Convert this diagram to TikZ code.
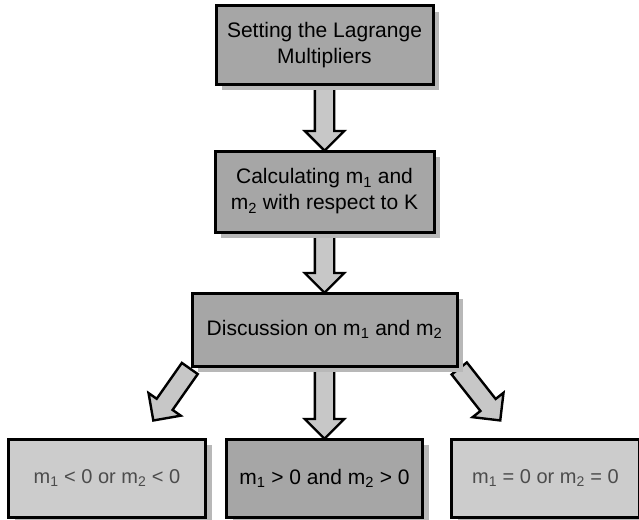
\documentclass[tikz,border=0pt]{standalone}
\usepackage{fontspec}
\setmainfont{Liberation Sans}
\usetikzlibrary{positioning}
\usetikzlibrary{calc}
\usetikzlibrary{shapes.arrows}
\usetikzlibrary{shadows}
\usetikzlibrary{backgrounds}
\tikzset{
    stage/.style={draw, line width=3pt, fill=black!35, align=center,
        minimum height=78pt, inner sep=2pt,
        font=\fontsize{21}{26}\selectfont,
        drop shadow={shadow xshift=6pt, shadow yshift=-6pt, fill=black!28, opacity=1}},
    case/.style={stage, fill=black!20, text=black!70,
        font=\fontsize{20}{24}\selectfont},
    fat/.style={single arrow, draw, line width=2.4pt, fill=black!22,
        minimum width=39pt, single arrow head extend=10pt,
        single arrow head indent=0pt, inner xsep=0pt, inner ysep=8.5pt}
}
% hollow block arrow from #1 to #2
\newcommand\fatarrow[2]{%
    \path let \p1=($(#2)-(#1)$), \n1={veclen(\x1,\y1)}, \n2={atan2(\y1,\x1)} in
        (#1) node[fat, minimum height=\n1, rotate=\n2, anchor=tail] {};}

\begin{document}
\begin{tikzpicture}[x=1pt, y=1pt]
    \useasboundingbox (0,0) rectangle (639,-519);

    \node [stage, minimum width=217pt] (lagrange) at (324.5,-45) {Setting the Lagrange\\Multipliers};
    \node [stage, minimum width=219pt, minimum height=81pt, below=64pt of lagrange] (mcalc)
        {Calculating m\textsubscript{1} and\\m\textsubscript{2} with respect to K};
    \node [stage, minimum width=265pt, minimum height=73pt, below=58pt of mcalc] (discuss)
        {Discussion on m\textsubscript{1} and m\textsubscript{2}};

    \node [stage, minimum width=196pt, below=70pt of discuss] (positive)
        {m\textsubscript{1} > 0 and m\textsubscript{2} > 0};
    \node [case, minimum width=197pt, left=18pt of positive] (negative)
        {m\textsubscript{1} < 0 or m\textsubscript{2} < 0};
    \node [case, minimum width=188pt, right=26pt of positive] (zero)
        {m\textsubscript{1} = 0 or m\textsubscript{2} = 0};

    \coordinate (negtip) at ($(negative.north)+(47,18)$);
    \coordinate (zerotip) at ($(zero.north)+(-46,18)$);

    \begin{scope}[on background layer]
        \fatarrow{lagrange.south}{mcalc.north}
        \fatarrow{mcalc.south}{discuss.north}
        \fatarrow{discuss.south}{positive.north}
        \fatarrow{discuss.south west}{negtip}
        \fatarrow{discuss.south east}{zerotip}
    \end{scope}
\end{tikzpicture}
\end{document}
